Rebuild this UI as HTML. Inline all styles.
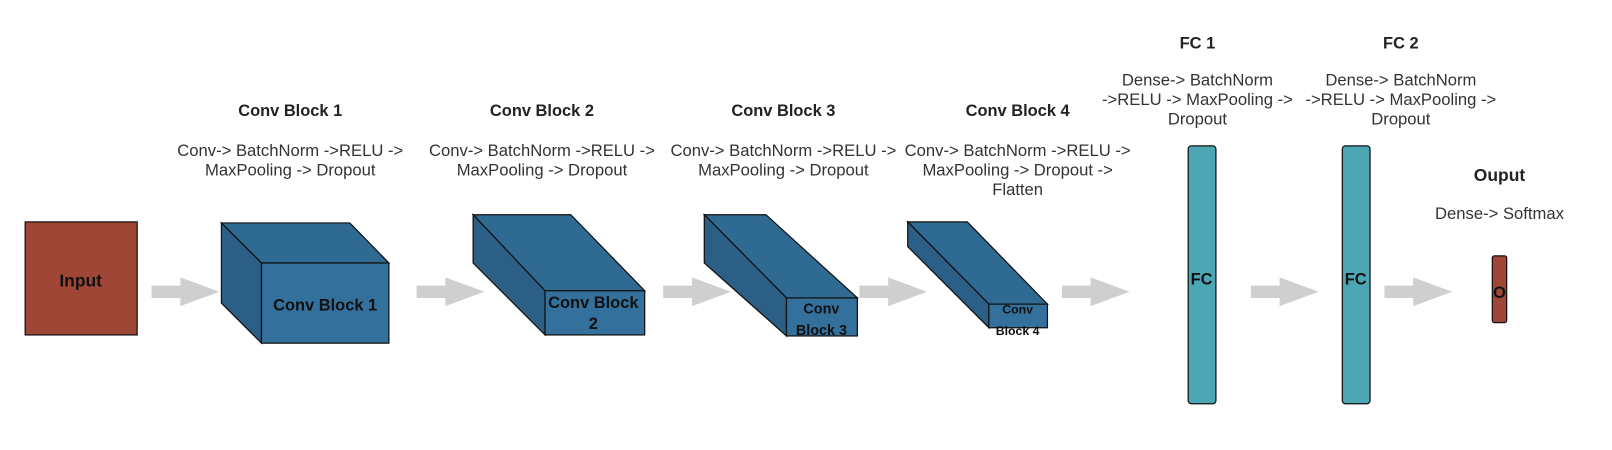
<!DOCTYPE html>
<html><head><meta charset="utf-8"><style>
html,body{margin:0;padding:0;background:#fff;width:1612px;height:450px;overflow:hidden}
svg{display:block}
text{font-family:"Liberation Sans",Arial,sans-serif;fill:#222}
.t{font-weight:bold;font-size:16px;text-anchor:middle}
.d{font-size:16.2px;text-anchor:middle;fill:#333}
.l{font-weight:bold;font-size:16px;text-anchor:middle;fill:#111}
.box{stroke:#111;stroke-width:1.2}
</style></head><body>
<svg width="1612" height="450" viewBox="0 0 1568 438">
<defs>
<g id="arr"><polygon points="0,-6 28,-6 28,-14 66,0 28,14 28,6 0,6" fill="#cfcfcf"/></g>
</defs>
<g>
<rect class="box" x="24" y="216" width="109" height="110" fill="#9f4636"/>
<text class="l" x="78" y="279" style="font-size:17px">Input</text>
</g>
<use href="#arr" x="147" y="284"/>
<g>
<text class="t" x="282" y="113">Conv Block 1</text>
<text class="d" x="282" y="152">Conv-&gt; BatchNorm -&gt;RELU -&gt;</text>
<text class="d" x="282" y="171">MaxPooling -&gt; Dropout</text>
<polygon class="box" points="215,217 340,217 378,256 254,256" fill="#2f6a93"/>
<polygon class="box" points="215,217 254,256 254,334 215,295" fill="#2c5f85"/>
<rect class="box" x="254" y="256" width="124" height="78" fill="#33709b"/>
<text class="l" x="316" y="302">Conv Block 1</text>
</g>
<use href="#arr" x="405" y="284"/>
<g>
<text class="t" x="527" y="113">Conv Block 2</text>
<text class="d" x="527" y="152">Conv-&gt; BatchNorm -&gt;RELU -&gt;</text>
<text class="d" x="527" y="171">MaxPooling -&gt; Dropout</text>
<polygon class="box" points="460,209 555,209 627,283 530,283" fill="#2f6a93"/>
<polygon class="box" points="460,209 530,283 530,326 460,256" fill="#2c5f85"/>
<rect class="box" x="530" y="283" width="97" height="43" fill="#33709b"/>
<text class="l" x="577" y="300">Conv Block</text>
<text class="l" x="577" y="320">2</text>
</g>
<use href="#arr" x="645" y="284"/>
<g>
<text class="t" x="762" y="113">Conv Block 3</text>
<text class="d" x="762" y="152">Conv-&gt; BatchNorm -&gt;RELU -&gt;</text>
<text class="d" x="762" y="171">MaxPooling -&gt; Dropout</text>
<polygon class="box" points="685,209 745,209 834,290 765,290" fill="#2f6a93"/>
<polygon class="box" points="685,209 765,290 765,327 685,256" fill="#2c5f85"/>
<rect class="box" x="765" y="290" width="69" height="37" fill="#33709b"/>
<text class="l" x="799" y="305" style="font-size:14px">Conv</text>
<text class="l" x="799" y="326" style="font-size:14px">Block 3</text>
</g>
<use href="#arr" x="836" y="284"/>
<g>
<text class="t" x="990" y="113">Conv Block 4</text>
<text class="d" x="990" y="152">Conv-&gt; BatchNorm -&gt;RELU -&gt;</text>
<text class="d" x="990" y="171">MaxPooling -&gt; Dropout -&gt;</text>
<text class="d" x="990" y="190">Flatten</text>
<polygon class="box" points="883,216 941,216 1019,296 962,296" fill="#2f6a93"/>
<polygon class="box" points="883,216 962,296 962,319 883,240" fill="#2c5f85"/>
<rect class="box" x="962" y="296" width="57" height="23" fill="#33709b"/>
<text class="l" x="990" y="305" style="font-size:12px">Conv</text>
<text class="l" x="990" y="326" style="font-size:12px">Block 4</text>
</g>
<use href="#arr" x="1033" y="284"/>
<g>
<text class="t" x="1165" y="47">FC 1</text>
<text class="d" x="1165" y="83">Dense-&gt; BatchNorm</text>
<text class="d" x="1165" y="102">-&gt;RELU -&gt; MaxPooling -&gt;</text>
<text class="d" x="1165" y="121">Dropout</text>
<rect class="box" x="1156" y="142" width="27" height="251" rx="3" fill="#4da6b3"/>
<text class="l" x="1169" y="277">FC</text>
</g>
<use href="#arr" x="1217" y="284"/>
<g>
<text class="t" x="1363" y="47">FC 2</text>
<text class="d" x="1363" y="83">Dense-&gt; BatchNorm</text>
<text class="d" x="1363" y="102">-&gt;RELU -&gt; MaxPooling -&gt;</text>
<text class="d" x="1363" y="121">Dropout</text>
<rect class="box" x="1306" y="142" width="27" height="251" rx="3" fill="#4da6b3"/>
<text class="l" x="1319" y="277">FC</text>
</g>
<use href="#arr" x="1347" y="284"/>
<g>
<text class="t" x="1459" y="176" style="font-size:17px">Ouput</text>
<text class="d" x="1459" y="213">Dense-&gt; Softmax</text>
<rect class="box" x="1452" y="249" width="14" height="65" rx="2" fill="#9f4636"/>
<text class="l" x="1459" y="290">O</text>
</g>
</svg>
</body></html>
